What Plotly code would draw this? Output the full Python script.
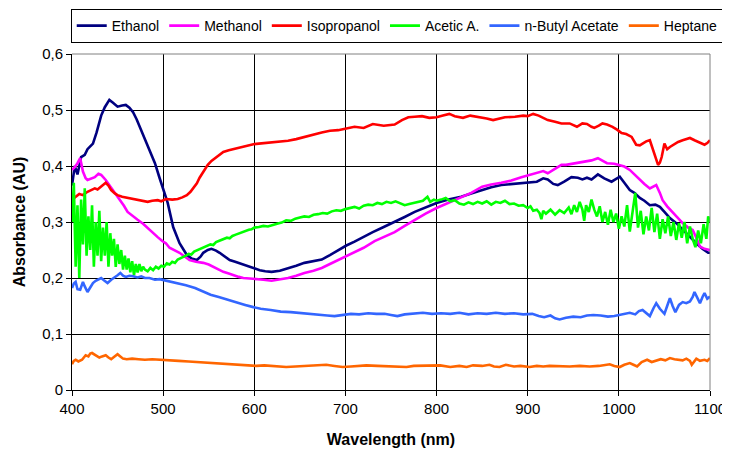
import plotly.graph_objects as go

# ---------------- data ----------------
wl_ethanol = [400, 403, 406, 410, 414, 417, 420, 423, 427, 432, 436, 441, 445, 450, 455, 459, 463, 467, 471, 476,
              481, 487, 491, 496, 500, 505, 511, 518, 526, 531, 537, 541, 544, 549, 553, 558, 562, 568, 573, 579,
              584, 590, 595, 601, 606, 612, 619, 628, 637, 646, 655, 665, 674, 683, 692, 701, 710, 720, 730, 742,
              754, 765, 776, 788, 800, 813, 827, 838, 850, 860, 871, 885, 900, 910, 917, 922, 928, 933, 940, 948,
              955, 960, 965, 970, 977, 984, 992, 996, 1001, 1006, 1012, 1017, 1023, 1028, 1034, 1040, 1045, 1050,
              1056, 1063, 1070, 1078, 1085, 1092, 1098, 1100]
abs_ethanol = [0.365, 0.400, 0.385, 0.416, 0.420, 0.430, 0.435, 0.440, 0.460, 0.490, 0.505, 0.518, 0.513, 0.506,
               0.508, 0.509, 0.504, 0.496, 0.483, 0.464, 0.445, 0.423, 0.405, 0.379, 0.357, 0.334, 0.291, 0.262,
               0.241, 0.235, 0.232, 0.238, 0.245, 0.250, 0.252, 0.249, 0.245, 0.238, 0.232, 0.229, 0.226, 0.223,
               0.220, 0.216, 0.214, 0.212, 0.211, 0.213, 0.217, 0.222, 0.227, 0.230, 0.233, 0.241, 0.250, 0.258,
               0.265, 0.274, 0.282, 0.291, 0.300, 0.309, 0.318, 0.326, 0.334, 0.340, 0.345, 0.351, 0.357, 0.362,
               0.366, 0.368, 0.370, 0.372, 0.378, 0.376, 0.368, 0.366, 0.372, 0.380, 0.379, 0.376, 0.379, 0.376,
               0.385, 0.378, 0.372, 0.376, 0.381, 0.370, 0.357, 0.352, 0.343, 0.338, 0.330, 0.331, 0.327, 0.318,
               0.307, 0.298, 0.286, 0.274, 0.262, 0.252, 0.245, 0.245]

wl_methanol = [400, 403, 406, 409, 412, 415, 417, 421, 425, 429, 432, 437, 441, 445, 449, 453, 457, 461, 466, 472,
               478, 483, 489, 494, 499, 503, 507, 512, 518, 524, 529, 536, 544, 550, 555, 561, 566, 572, 577, 583,
               588, 595, 601, 610, 619, 628, 637, 646, 655, 665, 674, 683, 692, 701, 710, 720, 732, 743, 754, 765,
               776, 788, 800, 813, 827, 838, 850, 860, 871, 882, 893, 902, 911, 917, 922, 930, 937, 942, 950, 960,
               965, 970, 977, 982, 987, 995, 1001, 1006, 1012, 1017, 1023, 1028, 1034, 1038, 1041, 1045, 1048,
               1053, 1059, 1064, 1070, 1076, 1081, 1085, 1089, 1094, 1098, 1100]
abs_methanol = [0.393, 0.398, 0.405, 0.414, 0.390, 0.378, 0.375, 0.378, 0.380, 0.386, 0.384, 0.375, 0.366, 0.357,
                0.348, 0.339, 0.329, 0.318, 0.311, 0.304, 0.297, 0.289, 0.281, 0.273, 0.266, 0.262, 0.254, 0.250,
                0.245, 0.238, 0.232, 0.229, 0.227, 0.224, 0.220, 0.215, 0.211, 0.208, 0.205, 0.202, 0.200, 0.199,
                0.199, 0.197, 0.195, 0.197, 0.200, 0.204, 0.209, 0.213, 0.218, 0.225, 0.232, 0.239, 0.246, 0.254,
                0.266, 0.274, 0.282, 0.293, 0.304, 0.315, 0.325, 0.334, 0.343, 0.352, 0.363, 0.367, 0.370, 0.374,
                0.380, 0.384, 0.389, 0.391, 0.387, 0.395, 0.402, 0.402, 0.404, 0.407, 0.409, 0.410, 0.414, 0.410,
                0.405, 0.404, 0.402, 0.399, 0.393, 0.385, 0.375, 0.368, 0.360, 0.364, 0.366, 0.352, 0.339, 0.328,
                0.318, 0.308, 0.298, 0.290, 0.286, 0.272, 0.256, 0.252, 0.250, 0.250]

wl_isopropanol = [400, 404, 408, 412, 417, 421, 425, 428, 432, 435, 437, 440, 443, 447, 450, 455, 461, 466, 472, 477,
                  483, 488, 494, 498, 503, 510, 516, 521, 526, 530, 533, 537, 540, 545, 549, 553, 557, 562, 566, 572,
                  577, 583, 588, 594, 599, 605, 612, 619, 628, 637, 646, 655, 665, 674, 683, 692, 701, 710, 720, 730,
                  742, 754, 762, 769, 776, 784, 792, 800, 807, 814, 820, 829, 837, 846, 855, 862, 867, 875, 886, 895,
                  900, 906, 912, 917, 922, 930, 937, 946, 954, 960, 965, 970, 973, 978, 982, 987, 993, 998, 1003,
                  1008, 1014, 1019, 1023, 1026, 1030, 1034, 1037, 1039, 1041, 1043, 1045, 1047, 1050, 1053, 1056,
                  1060, 1065, 1070, 1074, 1078, 1083, 1087, 1091, 1094, 1097, 1100]
abs_isopropanol = [0.340, 0.345, 0.350, 0.348, 0.354, 0.357, 0.360, 0.358, 0.363, 0.367, 0.370, 0.365, 0.357, 0.351,
                   0.348, 0.345, 0.343, 0.341, 0.339, 0.337, 0.336, 0.338, 0.339, 0.337, 0.341, 0.340, 0.341, 0.344,
                   0.348, 0.354, 0.360, 0.369, 0.379, 0.392, 0.402, 0.409, 0.414, 0.420, 0.425, 0.428, 0.430, 0.432,
                   0.434, 0.437, 0.439, 0.440, 0.441, 0.442, 0.443, 0.445, 0.448, 0.452, 0.456, 0.460, 0.463, 0.464,
                   0.467, 0.470, 0.468, 0.475, 0.472, 0.474, 0.482, 0.487, 0.488, 0.489, 0.486, 0.487, 0.490, 0.493,
                   0.489, 0.486, 0.490, 0.488, 0.485, 0.482, 0.484, 0.487, 0.488, 0.490, 0.489, 0.493, 0.490, 0.486,
                   0.482, 0.479, 0.476, 0.476, 0.470, 0.476, 0.475, 0.470, 0.468, 0.472, 0.476, 0.474, 0.470, 0.465,
                   0.459, 0.457, 0.452, 0.438, 0.437, 0.440, 0.444, 0.446, 0.432, 0.420, 0.410, 0.402, 0.406, 0.416,
                   0.440, 0.430, 0.434, 0.438, 0.443, 0.446, 0.448, 0.450, 0.446, 0.443, 0.440, 0.438, 0.441, 0.446]

wl_acetic = [400, 402, 404, 406, 408, 410, 412, 414, 416, 418, 420, 422, 424, 426, 428, 430, 432, 434, 436, 438,
             440, 442, 444, 446, 448, 450, 452, 454, 456, 458, 460, 462, 464, 466, 468, 470, 472, 474, 476, 478,
             480, 483, 486, 489, 492, 495, 498, 501, 504, 507, 510, 513, 516, 519, 522, 525, 528, 531, 534, 537,
             540, 543, 546, 549, 552, 555, 558, 561, 564, 567, 570, 573, 576, 579, 582, 585, 588, 591, 594, 597,
             600, 605, 610, 615, 620, 625, 630, 635, 640, 645, 650, 655, 660, 665, 670, 675, 680, 685, 690, 695,
             700, 705, 710, 715, 720, 725, 730, 735, 740, 745, 750, 755, 760, 765, 770, 775, 780, 785, 790, 793,
             797, 800, 805, 810, 815, 820, 825, 830, 835, 840, 845, 850, 855, 860, 865, 870, 875, 880, 885, 890,
             895, 900, 903, 906, 910, 913, 915, 917, 920, 925, 930, 935, 940, 945, 948, 951, 954, 957, 960, 962,
             964, 967, 970, 973, 976, 979, 982, 985, 988, 991, 994, 997, 1000, 1003, 1006, 1009, 1012, 1015, 1018,
             1021, 1024, 1027, 1030, 1033, 1036, 1039, 1042, 1045, 1048, 1051, 1054, 1057, 1060, 1063, 1066, 1069,
             1072, 1075, 1078, 1081, 1084, 1087, 1090, 1093, 1096, 1098, 1100]
abs_acetic = [0.300, 0.370, 0.220, 0.330, 0.200, 0.340, 0.260, 0.360, 0.240, 0.310, 0.250, 0.330, 0.220, 0.300,
              0.240, 0.320, 0.230, 0.290, 0.240, 0.300, 0.220, 0.280, 0.240, 0.270, 0.220, 0.260, 0.225, 0.250,
              0.215, 0.240, 0.215, 0.235, 0.210, 0.230, 0.205, 0.225, 0.210, 0.225, 0.212, 0.220, 0.215,
              0.212, 0.218, 0.214, 0.220, 0.217, 0.222, 0.220, 0.226, 0.224, 0.229, 0.227, 0.233, 0.235, 0.238,
              0.240, 0.243, 0.242, 0.247, 0.249, 0.252, 0.253, 0.256, 0.258, 0.260, 0.259, 0.264, 0.266, 0.268,
              0.270, 0.272, 0.271, 0.275, 0.277, 0.279, 0.280, 0.283, 0.284, 0.286, 0.287, 0.290,
              0.291, 0.293, 0.292, 0.295, 0.297, 0.299, 0.303, 0.302, 0.306, 0.308, 0.310, 0.309, 0.313, 0.314,
              0.316, 0.315, 0.319, 0.321, 0.320, 0.323, 0.325, 0.327, 0.324, 0.329, 0.331, 0.330, 0.334, 0.332,
              0.336, 0.334, 0.337, 0.333, 0.330, 0.332, 0.334, 0.336, 0.338, 0.345, 0.336, 0.340, 0.338, 0.340,
              0.343, 0.337, 0.339, 0.333, 0.331, 0.335, 0.332, 0.336, 0.333, 0.337, 0.331, 0.336, 0.334, 0.338,
              0.332, 0.333, 0.329, 0.330, 0.325, 0.328, 0.320, 0.322, 0.316, 0.305, 0.320, 0.315, 0.322, 0.313,
              0.321, 0.316, 0.326, 0.314, 0.330, 0.318, 0.336, 0.322, 0.302, 0.330, 0.318, 0.340, 0.322, 0.310,
              0.328, 0.300, 0.318, 0.295, 0.322, 0.300, 0.315, 0.288, 0.310, 0.292, 0.330, 0.283, 0.318, 0.352,
              0.290, 0.320, 0.278, 0.310, 0.285, 0.325, 0.282, 0.315, 0.270, 0.305, 0.280, 0.310, 0.275, 0.300,
              0.268, 0.298, 0.272, 0.300, 0.262, 0.292, 0.270, 0.255, 0.285, 0.262, 0.296, 0.270, 0.310, 0.300]

wl_butyl = [400, 402, 404, 406, 409, 411, 412, 414, 417, 420, 423, 426, 429, 432, 435, 439, 443, 447, 450, 453,
            456, 459, 463, 467, 472, 476, 480, 485, 491, 496, 502, 509, 516, 525, 535, 543, 552, 561, 571, 580,
            590, 599, 607, 618, 629, 640, 651, 662, 673, 680, 688, 697, 706, 715, 725, 734, 743, 750, 757, 765,
            775, 785, 795, 805, 815, 825, 835, 845, 855, 865, 875, 885, 895, 905, 912, 918, 925, 930, 935, 942,
            950, 958, 965, 972, 980, 988, 995, 1000, 1006, 1012, 1018, 1022, 1026, 1030, 1034, 1038, 1041, 1045,
            1050, 1053, 1056, 1059, 1062, 1066, 1070, 1074, 1078, 1081, 1083, 1086, 1089, 1092, 1094, 1097, 1100]
abs_butyl = [0.182, 0.190, 0.193, 0.180, 0.179, 0.190, 0.193, 0.185, 0.175, 0.183, 0.191, 0.195, 0.198, 0.200,
             0.196, 0.191, 0.197, 0.201, 0.205, 0.209, 0.204, 0.202, 0.204, 0.203, 0.201, 0.203, 0.200, 0.200,
             0.197, 0.198, 0.196, 0.193, 0.191, 0.187, 0.182, 0.176, 0.170, 0.166, 0.161, 0.156, 0.152, 0.148,
             0.145, 0.143, 0.140, 0.139, 0.137, 0.136, 0.134, 0.133, 0.132, 0.134, 0.136, 0.135, 0.137, 0.136,
             0.136, 0.134, 0.132, 0.135, 0.137, 0.138, 0.136, 0.137, 0.136, 0.138, 0.135, 0.137, 0.136, 0.138,
             0.136, 0.137, 0.135, 0.136, 0.132, 0.130, 0.133, 0.128, 0.126, 0.129, 0.131, 0.130, 0.133, 0.134,
             0.133, 0.131, 0.132, 0.134, 0.136, 0.138, 0.135, 0.141, 0.143, 0.138, 0.132, 0.146, 0.155, 0.145,
             0.136, 0.150, 0.164, 0.150, 0.139, 0.152, 0.157, 0.155, 0.158, 0.166, 0.175, 0.165, 0.155, 0.167,
             0.173, 0.163, 0.167]

wl_heptane = [400, 402, 404, 407, 411, 413, 415, 418, 420, 422, 425, 428, 430, 433, 437, 440, 443, 446, 450, 453,
              456, 460, 466, 473, 480, 488, 495, 505, 517, 528, 539, 550, 561, 572, 583, 592, 602, 611, 620, 628,
              635, 645, 657, 668, 679, 688, 697, 706, 715, 723, 735, 745, 752, 760, 767, 775, 785, 795, 804, 815,
              825, 833, 840, 850, 858, 863, 869, 876, 885, 892, 902, 910, 917, 924, 935, 946, 957, 968, 978, 985,
              990, 995, 1001, 1006, 1012, 1016, 1020, 1025, 1031, 1036, 1041, 1046, 1051, 1056, 1061, 1066, 1070,
              1074, 1078, 1080, 1083, 1085, 1089, 1094, 1097, 1100]
abs_heptane = [0.046, 0.052, 0.054, 0.051, 0.054, 0.058, 0.062, 0.060, 0.065, 0.066, 0.063, 0.060, 0.058, 0.060,
               0.062, 0.058, 0.055, 0.059, 0.064, 0.060, 0.056, 0.055, 0.056, 0.055, 0.054, 0.055, 0.054, 0.053,
               0.052, 0.051, 0.050, 0.049, 0.048, 0.047, 0.046, 0.045, 0.043, 0.044, 0.043, 0.042, 0.041, 0.042,
               0.043, 0.044, 0.045, 0.043, 0.041, 0.042, 0.043, 0.044, 0.043, 0.042, 0.042, 0.041, 0.041, 0.043,
               0.043, 0.044, 0.044, 0.041, 0.043, 0.041, 0.044, 0.043, 0.045, 0.042, 0.041, 0.045, 0.042, 0.043,
               0.041, 0.043, 0.042, 0.043, 0.042, 0.042, 0.043, 0.042, 0.043, 0.045, 0.046, 0.043, 0.041, 0.045,
               0.048, 0.045, 0.042, 0.050, 0.054, 0.050, 0.052, 0.055, 0.053, 0.057, 0.055, 0.054, 0.053, 0.056,
               0.052, 0.045, 0.052, 0.056, 0.052, 0.054, 0.052, 0.057]

x_tick_values = [400, 500, 600, 700, 800, 900, 1000, 1100]
x_tick_labels = ["400", "500", "600", "700", "800", "900", "1000", "1100"]
y_tick_values = [0, 0.1, 0.2, 0.3, 0.4, 0.5, 0.6]
y_tick_labels = ["0", "0,1", "0,2", "0,3", "0,4", "0,5", "0,6"]

series = [
    ("Ethanol", wl_ethanol, abs_ethanol, "#000080"),
    ("Methanol", wl_methanol, abs_methanol, "#FF00FF"),
    ("Isopropanol", wl_isopropanol, abs_isopropanol, "#FF0000"),
    ("Acetic A.", wl_acetic, abs_acetic, "#00FF00"),
    ("n-Butyl Acetate", wl_butyl, abs_butyl, "#3366FF"),
    ("Heptane", wl_heptane, abs_heptane, "#FF6600"),
]

FONT = "Liberation Sans, Arial, sans-serif"

fig = go.Figure()
for name, xs, ys, col in series:
    fig.add_trace(go.Scatter(x=xs, y=ys, name=name, mode="lines",
                             line=dict(color=col, width=2.6)))

# the page body has an 8px margin, so the figure is sized to fit the 730x452 window
fig.update_layout(
    width=722, height=444,
    margin=dict(l=64, r=20, t=46, b=62, autoexpand=False),
    paper_bgcolor="white", plot_bgcolor="white",
    font=dict(family=FONT, size=15, color="black"),
    showlegend=True,
    legend=dict(orientation="h", x=-0.002, xanchor="left", y=1.134, yanchor="top",
                bordercolor="black", borderwidth=1, bgcolor="white",
                font=dict(size=14, family=FONT), itemwidth=30, tracegroupgap=0),
    xaxis=dict(range=[400, 1100], tickvals=x_tick_values, ticktext=x_tick_labels,
               showgrid=True, gridcolor="black", gridwidth=1,
               showline=True, linecolor="black", linewidth=1,
               ticks="outside", ticklen=5, tickcolor="black",
               zeroline=False,
               title=dict(text="<b>Wavelength (nm)</b>", font=dict(size=16), standoff=17)),
    yaxis=dict(range=[0, 0.6], tickvals=y_tick_values, ticktext=y_tick_labels,
               showgrid=True, gridcolor="black", gridwidth=1,
               showline=True, linecolor="black", linewidth=1,
               ticks="outside", ticklen=5, tickcolor="black",
               zeroline=False,
               title=dict(text="<b>Absorbance (AU)</b>", font=dict(size=16), standoff=12)),
    shapes=[
        dict(type="line", xref="paper", yref="paper", x0=0, x1=1, y0=1, y1=1,
             line=dict(color="#808080", width=1), layer="above"),
        dict(type="line", xref="paper", yref="paper", x0=1, x1=1, y0=0, y1=1,
             line=dict(color="#808080", width=1), layer="above"),
    ],
)

fig.write_html("out.html")
